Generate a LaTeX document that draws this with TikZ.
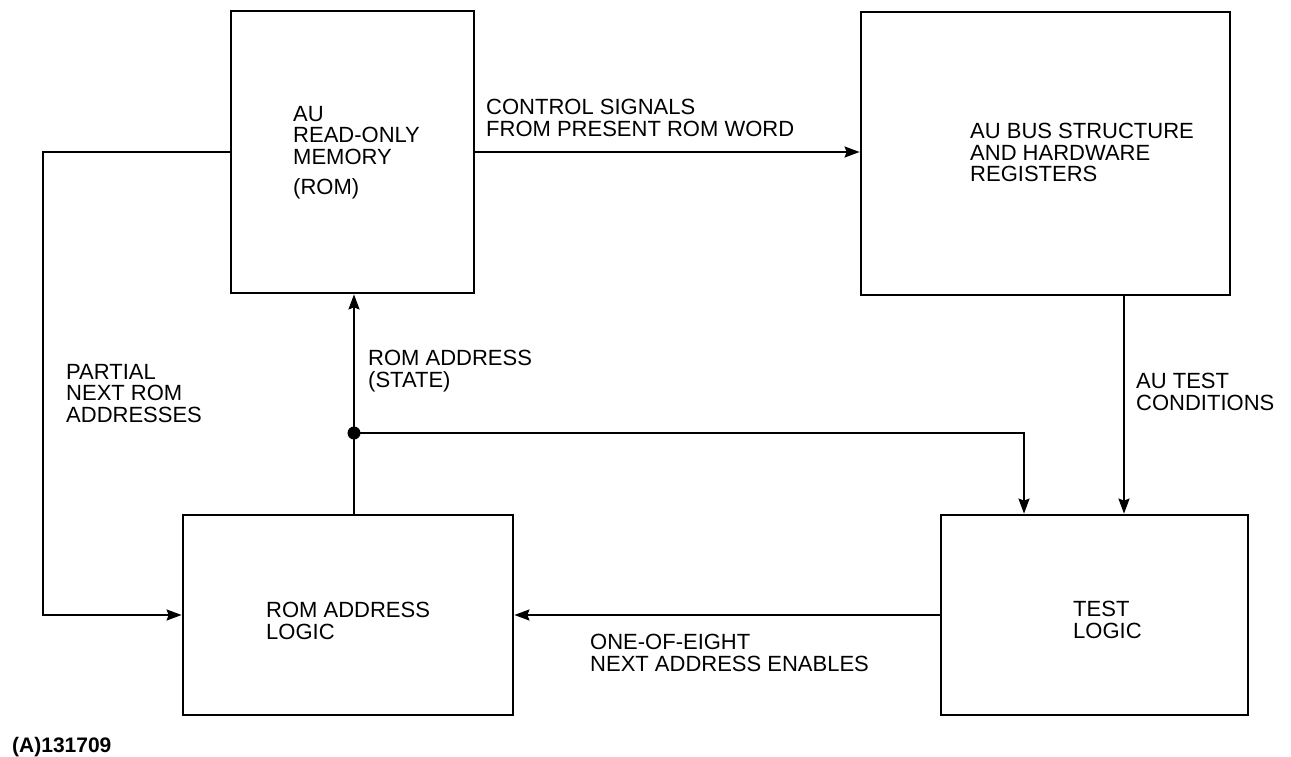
\documentclass[tikz,border=0pt]{standalone}
\usepackage{fontspec}
\setmainfont{Liberation Sans}
\usetikzlibrary{arrows.meta,calc}
\begin{document}
\begin{tikzpicture}[x=1pt,y=-1pt,
  blockbox/.style={draw,line width=2.8pt,minimum width=#1,inner sep=0pt},
  lbl/.style={anchor=north west,inner sep=0pt,align=left,font=\fontsize{22pt}{21.5pt}\selectfont},
  conn/.style={line width=1.8pt,-{Stealth[length=15pt,width=11pt,inset=2pt]}},
  plain/.style={line width=1.8pt}]
\useasboundingbox (0,0) rectangle (1291,756);
% boxes
\node[blockbox=243pt,minimum height=282pt] (rom) at (352.5,152) {};
\node[blockbox=369pt,minimum height=283pt] (bus) at (1045.5,153.5) {};
\node[blockbox=330pt,minimum height=200pt] (ral) at (348,615) {};
\node[blockbox=307pt,minimum height=200pt] (tl) at (1094.5,615) {};
% texts
\node[lbl] (tRom) at (293,106) {AU\\READ-ONLY\\MEMORY};
\node[lbl] (tRom2) at (293,178) {(ROM)};
\node[lbl] (tBus) at (970,123) {AU BUS STRUCTURE\\AND HARDWARE\\REGISTERS};
\node[lbl] (tRal) at (266,602) {ROM ADDRESS\\LOGIC};
\node[lbl] (tTl) at (1073,601) {TEST\\LOGIC};
\node[lbl] (tCtl) at (486,99) {CONTROL SIGNALS\\FROM PRESENT ROM WORD};
\node[lbl] (tPart) at (66,364) {PARTIAL\\NEXT ROM\\ADDRESSES};
\node[lbl] (tAddr) at (368,350) {ROM ADDRESS\\(STATE)};
\node[lbl] (tCond) at (1136,373) {AU TEST\\CONDITIONS};
\node[lbl] (tOne) at (590,634) {ONE-OF-EIGHT\\NEXT ADDRESS ENABLES};
\node[anchor=north west,inner sep=0pt,font=\fontsize{21pt}{21pt}\selectfont\bfseries] (tId) at (12,737) {(A)131709};
% coordinates
\coordinate (dot) at (354,433);
\coordinate (tin) at (1024,0);
\coordinate (bx) at (1124,0);
\coordinate (lx) at (43,0);
% connectors
\draw[conn] (rom.east) -- (rom.east -| bus.west);
\draw[conn] (rom.west) -- (lx |- rom.west) |- (ral.west);
\draw[conn] (dot |- ral.north) -- (dot |- rom.south);
\draw[conn] (dot) -| (tin |- tl.north);
\draw[conn] (bx |- bus.south) -- (bx |- tl.north);
\draw[conn] (tl.west) -- (tl.west -| ral.east);
\fill (dot) circle (6.5pt);
\end{tikzpicture}
\end{document}
